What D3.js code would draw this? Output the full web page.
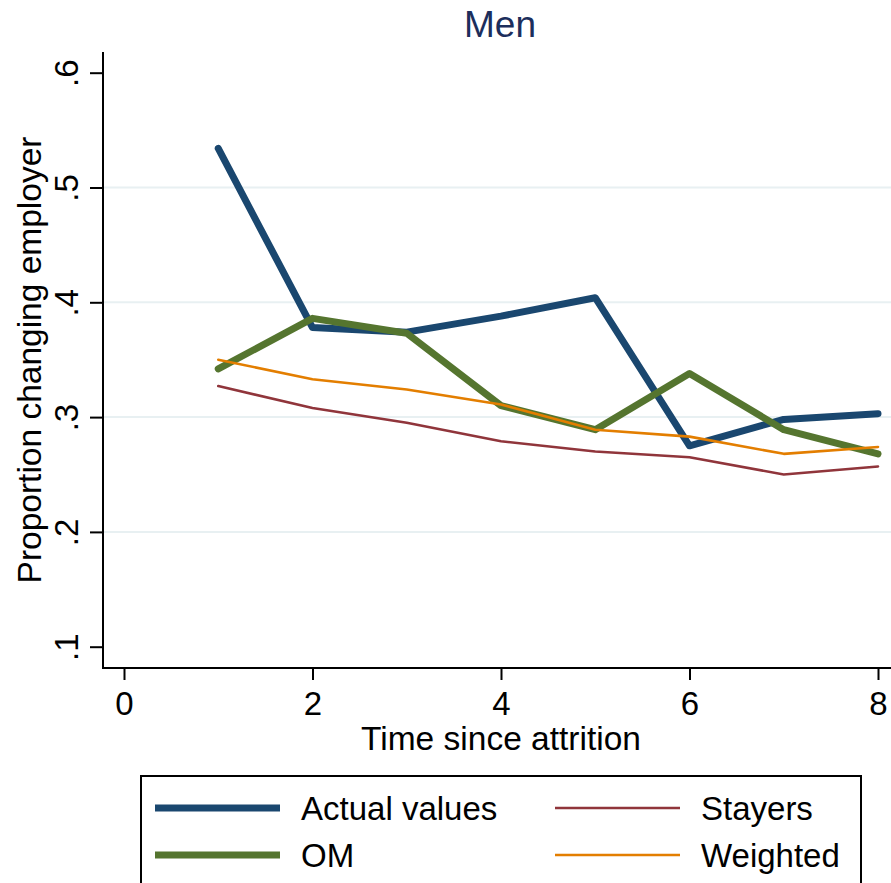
<!DOCTYPE html>
<html>
<head>
<meta charset="utf-8">
<script src="https://cdn.jsdelivr.net/npm/d3@7"></script>
<style>
  body { margin: 0; background: #fff; }
  svg { display: block; font-family: "Liberation Sans", Arial, Helvetica, sans-serif; }
</style>
</head>
<body>
<div id="chart"></div>
<script>
// data
const times = [1, 2, 3, 4, 5, 6, 7, 8]
const actual = [0.534, 0.378, 0.374, 0.388, 0.404, 0.275, 0.298, 0.303]
const om = [0.342, 0.386, 0.373, 0.310, 0.289, 0.338, 0.289, 0.268]
const stayers = [0.327, 0.308, 0.295, 0.279, 0.270, 0.265, 0.250, 0.257]
const weighted = [0.350, 0.333, 0.324, 0.311, 0.289, 0.283, 0.268, 0.274]
const xTicks = [0, 2, 4, 6, 8]
const yTicks = [0.1, 0.2, 0.3, 0.4, 0.5, 0.6]
const yTickLabels = ['.1', '.2', '.3', '.4', '.5', '.6']
const gridTicks = [0.2, 0.3, 0.4, 0.5]

const series = [
  { name: 'Actual values', values: actual, color: '#1a476f', width: 7 },
  { name: 'OM', values: om, color: '#55752f', width: 7 },
  { name: 'Stayers', values: stayers, color: '#90353b', width: 2.6 },
  { name: 'Weighted', values: weighted, color: '#e37e00', width: 2.6 }
]

const fullWidth = 891,
  fullHeight = 883

const svg = d3.select('#chart')
  .append('svg')
    .attr('width', fullWidth)
    .attr('height', fullHeight)

// plot region
const plotLeft = 103, plotRight = 891, plotTop = 52, plotBottom = 668

const xScale = d3.scaleLinear()
  .domain([0, 8])
  .range([124, 878])

const yScale = d3.scaleLinear()
  .domain([0.1, 0.6])
  .range([646.7, 72.7])

// title
svg.append('text')
  .attr('x', 500)
  .attr('y', 37)
  .attr('text-anchor', 'middle')
  .style('font-size', '37px')
  .style('fill', '#1c2e5c')
  .text('Men')

// gridlines
svg.append('g')
  .selectAll('line')
  .data(gridTicks)
  .enter()
  .append('line')
    .attr('x1', plotLeft)
    .attr('x2', plotRight)
    .attr('y1', d => yScale(d))
    .attr('y2', d => yScale(d))
    .style('stroke', '#e8f0f2')
    .style('stroke-width', 2)

// y axis
const yAxis = svg.append('g')
  .attr('transform', `translate(${plotLeft}, 0)`)
  .call(d3.axisLeft(yScale).tickValues(yTicks).tickSize(13).tickFormat((d, i) => yTickLabels[i]))
yAxis.select('.domain').remove()
yAxis.append('line')
  .attr('y1', plotTop).attr('y2', plotBottom + 1)
  .style('stroke', '#000').style('stroke-width', 2)
yAxis.selectAll('.tick line').style('stroke', '#000').style('stroke-width', 2)
yAxis.selectAll('.tick text')
  .attr('x', null).attr('dy', null)
  .attr('transform', 'translate(-25, 0) rotate(-90)')
  .attr('text-anchor', 'middle')
  .style('font-size', '33px')
  .style('font-family', '"Liberation Sans", Arial, sans-serif')
  .style('fill', '#000')

// x axis
const xAxis = svg.append('g')
  .attr('transform', `translate(0, ${plotBottom})`)
  .call(d3.axisBottom(xScale).tickValues(xTicks).tickSize(12).tickFormat(d3.format('d')))
xAxis.select('.domain').remove()
xAxis.append('line')
  .attr('x1', plotLeft - 1).attr('x2', plotRight)
  .style('stroke', '#000').style('stroke-width', 2)
xAxis.selectAll('.tick line').style('stroke', '#000').style('stroke-width', 2)
xAxis.selectAll('.tick text')
  .attr('y', 47).attr('dy', null)
  .style('font-size', '33px')
  .style('font-family', '"Liberation Sans", Arial, sans-serif')
  .style('fill', '#000')

// axis titles
svg.append('text')
  .attr('x', 501)
  .attr('y', 750)
  .attr('text-anchor', 'middle')
  .style('font-size', '33.5px')
  .text('Time since attrition')

svg.append('text')
  .attr('transform', 'translate(41, 360) rotate(-90)')
  .attr('text-anchor', 'middle')
  .style('font-size', '33.5px')
  .text('Proportion changing employer')

// lines
const line = d3.line()
  .x((d, i) => xScale(times[i]))
  .y(d => yScale(d))

svg.append('g')
  .selectAll('path')
  .data(series)
  .enter()
  .append('path')
    .attr('d', d => line(d.values))
    .style('fill', 'none')
    .style('stroke', d => d.color)
    .style('stroke-width', d => d.width)
    .style('stroke-linecap', 'round')
    .style('stroke-linejoin', 'round')

// legend
const legend = svg.append('g')
legend.append('rect')
  .attr('x', 141).attr('y', 776)
  .attr('width', 720).attr('height', 130)
  .style('fill', '#fff')
  .style('stroke', '#000')
  .style('stroke-width', 2)

const cols = [155, 555], rows = [808, 855]
const items = legend.selectAll('.item')
  .data(series)
  .enter()
  .append('g')
    .attr('class', 'item')
    .attr('transform', (d, i) => `translate(${cols[Math.floor(i / 2)]}, ${rows[i % 2]})`)
items.append('line')
  .attr('x1', 0).attr('x2', 125)
  .style('stroke', d => d.color)
  .style('stroke-width', d => d.width)
items.append('text')
  .attr('x', 146)
  .attr('y', 12)
  .style('font-size', '33px')
  .text(d => d.name)
</script>
</body>
</html>
